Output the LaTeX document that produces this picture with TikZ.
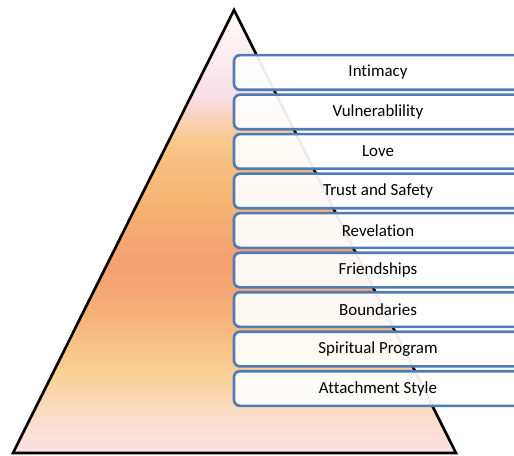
\documentclass[tikz,border=0pt]{standalone}
\usepackage{fontspec}
\setmainfont{Carlito}[Ligatures=NoCommon]
\definecolor{boxline}{RGB}{79,124,180}
\definecolor{sa}{RGB}{251,225,228}
\definecolor{sb}{RGB}{251,222,205}
\definecolor{sc}{RGB}{250,210,150}
\definecolor{sd}{RGB}{246,175,120}
\definecolor{se}{RGB}{245,160,115}
\definecolor{sf}{RGB}{246,180,115}
\definecolor{sg}{RGB}{248,200,140}
\definecolor{sh}{RGB}{248,222,232}
\definecolor{si}{RGB}{252,236,240}
\definecolor{sj}{RGB}{255,250,245}
\pgfdeclareverticalshading{pyrshade}{100bp}{
color(0bp)=(sa); color(25bp)=(sa); color(28.7bp)=(sb); color(33.8bp)=(sc);
color(41.1bp)=(sd); color(46.2bp)=(se); color(53.6bp)=(sf); color(60.3bp)=(sg);
color(65.4bp)=(sh); color(69.4bp)=(si); color(75bp)=(sj); color(100bp)=(sj)}
\tikzset{
  level/.style={draw=boxline, line width=2pt, rounded corners=4.5pt,
    fill=white, fill opacity=0.93, text opacity=1,
    minimum width=216pt, minimum height=26pt, inner sep=0pt,
    font=\fontsize{12.7}{14}\selectfont, text=black},
  pyr/.style={draw=black, line width=2pt, shading=pyrshade, line join=miter}
}
\begin{document}
\begin{tikzpicture}[x=0.75pt,y=-0.75pt]
\useasboundingbox (0,0) rectangle (514,456);
\coordinate (apex) at (234,10);
\coordinate (bl) at (13,453);
\coordinate (br) at (456,453);
\path[pyr] (apex) -- (bl) -- (br) -- cycle;
\foreach \t [count=\i from 0] in {Intimacy,Vulnerablility,Love,Trust and Safety,Revelation,Friendships,Boundaries,Spiritual Program,Attachment Style}{
  \node[level] (b\i) at (378,{72.5+39.5*\i}) {\t};
}
\end{tikzpicture}
\end{document}
